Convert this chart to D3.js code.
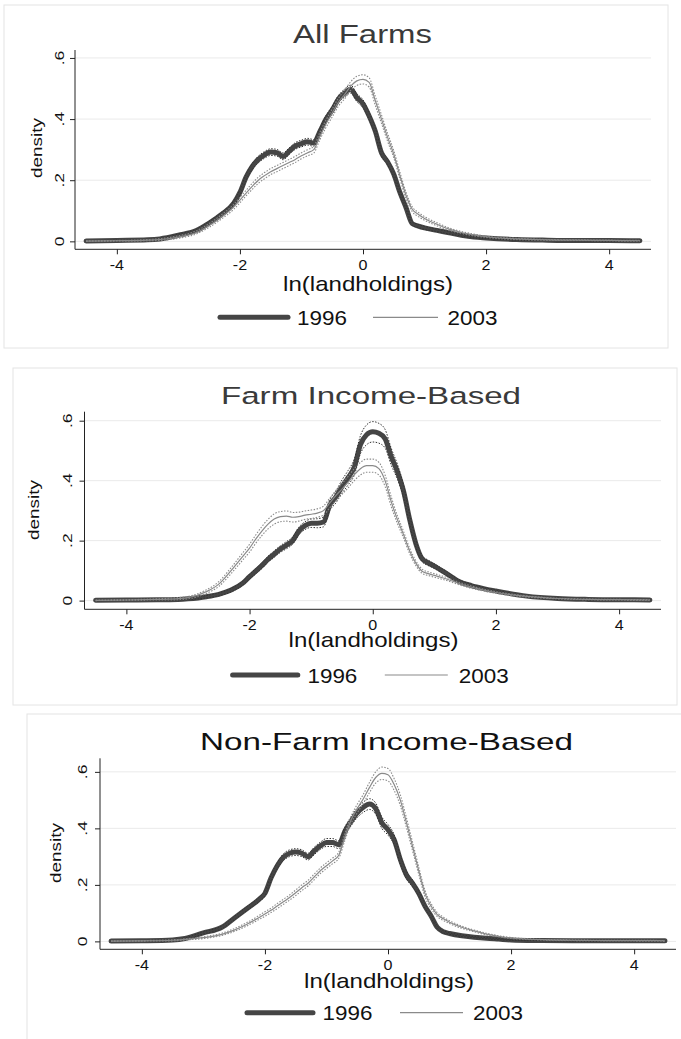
<!DOCTYPE html>
<meta charset="utf-8">
<script src="https://d3js.org/d3.v7.min.js"></script>
<style>
  body { margin: 0; background: #fff; }
  text { font-family: "Liberation Sans", Arial, sans-serif; }
</style>
<div id="my_dataviz"></div>
<script>
// shared grid of ln(landholdings) where the densities were read
var xGrid = [-4.5,-4,-3.5,-3.3,-3,-2.7,-2.5,-2.3,-2.1,-2.0,-1.9,-1.8,-1.7,-1.6,-1.5,-1.4,-1.3,-1.2,-1.1,-1.0,
  -0.9,-0.8,-0.7,-0.6,-0.5,-0.4,-0.3,-0.2,-0.1,0,0.1,0.2,0.3,0.4,0.5,0.6,0.7,0.8,0.9,1.0,
  1.2,1.4,1.6,1.8,2.0,2.5,3.0,3.5,4.0,4.5];

var titles = ["All Farms", "Farm Income-Based", "Non-Farm Income-Based"];
var years = ["1996", "2003"];
var xTicks = [-4, -2, 0, 2, 4];
var yTicks = [0, 0.2, 0.4, 0.6];
var yTickLabels = ["0", ".2", ".4", ".6"];
var xTitle = "ln(landholdings)";
var yTitle = "density";

// All Farms
var allFarms1996 = [.001,.003,.005,.008,.020,.036,.060,.088,.125,.160,.210,.245,.268,.283,.292,.290,.278,.295,.312,.320,
  .326,.322,.360,.400,.430,.465,.485,.498,.470,.450,.410,.360,.290,.260,.220,.160,.110,.058,.050,.044,
  .036,.028,.020,.014,.011,.006,.004,.003,.003,.002];
var allFarms1996CI = [.001,.001,.002,.003,.004,.005,.006,.007,.008,.009,.010,.010,.011,.011,.011,.011,.011,.011,.011,.011,
  .011,.011,.011,.012,.012,.012,.013,.013,.013,.013,.012,.012,.011,.010,.010,.009,.008,.006,.005,.005,
  .004,.004,.003,.003,.002,.002,.001,.001,.001,.001];
var allFarms2003 = [.001,.002,.004,.006,.014,.030,.052,.080,.113,.135,.158,.180,.200,.215,.228,.238,.248,.258,.268,.280,
  .290,.300,.345,.385,.420,.455,.480,.508,.525,.530,.520,.460,.400,.340,.285,.215,.150,.105,.088,.075,
  .056,.040,.029,.021,.015,.008,.005,.004,.003,.002];
var allFarms2003CI = [.001,.001,.002,.003,.004,.005,.006,.007,.008,.009,.009,.010,.010,.010,.010,.010,.010,.010,.010,.010,
  .010,.011,.012,.012,.013,.013,.014,.014,.015,.015,.015,.015,.014,.013,.012,.011,.010,.008,.007,.006,
  .005,.004,.003,.003,.002,.002,.001,.001,.001,.001];

// Farm Income-Based
var farmInc1996 = [.001,.002,.003,.003,.006,.013,.021,.035,.060,.080,.098,.117,.138,.155,.172,.185,.200,.232,.250,.258,
  .258,.262,.318,.345,.380,.410,.445,.520,.553,.563,.558,.540,.480,.430,.365,.270,.190,.140,.126,.115,
  .090,.064,.050,.040,.032,.015,.007,.004,.003,.002];
var farmInc1996CI = [.001,.001,.002,.002,.003,.004,.005,.006,.007,.008,.009,.010,.010,.011,.011,.012,.012,.013,.013,.014,
  .015,.016,.018,.020,.022,.024,.027,.030,.033,.034,.033,.031,.028,.025,.021,.017,.013,.010,.009,.008,
  .007,.006,.005,.004,.003,.002,.002,.001,.001,.001];
var farmInc2003 = [.001,.002,.004,.005,.010,.030,.055,.100,.150,.175,.205,.232,.255,.272,.280,.282,.278,.280,.285,.288,
  .292,.300,.325,.350,.372,.395,.420,.440,.450,.450,.440,.400,.330,.270,.220,.165,.125,.098,.090,.084,
  .072,.057,.045,.035,.027,.014,.007,.004,.003,.002];
var farmInc2003CI = [.001,.001,.002,.003,.004,.006,.008,.010,.012,.013,.014,.015,.016,.017,.017,.017,.016,.015,.014,.014,
  .014,.015,.016,.017,.018,.019,.020,.021,.022,.022,.021,.019,.016,.013,.011,.009,.008,.007,.006,.006,
  .005,.004,.004,.003,.003,.002,.001,.001,.001,.001];

// Non-Farm Income-Based
var nonFarm1996 = [.001,.002,.005,.010,.030,.050,.082,.115,.148,.170,.225,.268,.298,.312,.316,.312,.300,.320,.338,.350,
  .350,.342,.390,.425,.455,.475,.486,.470,.420,.395,.360,.290,.235,.205,.170,.125,.090,.050,.034,.028,
  .020,.015,.011,.008,.005,.003,.002,.002,.002,.002];
var nonFarm1996CI = [.001,.001,.002,.003,.004,.005,.006,.007,.008,.009,.010,.011,.012,.012,.012,.012,.012,.013,.013,.014,
  .014,.014,.015,.016,.017,.018,.019,.020,.020,.019,.018,.016,.014,.012,.010,.008,.007,.005,.004,.003,
  .003,.002,.002,.002,.001,.001,.001,.001,.001,.001];
var nonFarm2003 = [.001,.002,.004,.007,.013,.025,.040,.060,.084,.097,.110,.125,.140,.155,.172,.190,.206,.228,.250,.268,
  .285,.305,.370,.430,.470,.505,.545,.580,.595,.590,.555,.500,.420,.335,.250,.170,.125,.095,.080,.068,
  .050,.037,.026,.018,.012,.006,.004,.003,.003,.002];
var nonFarm2003CI = [.001,.001,.002,.002,.003,.004,.005,.006,.007,.008,.008,.009,.009,.009,.010,.010,.010,.010,.010,.010,
  .010,.011,.012,.013,.015,.016,.018,.020,.022,.022,.021,.019,.017,.015,.013,.011,.009,.007,.006,.005,
  .004,.003,.003,.002,.002,.001,.001,.001,.001,.001];

var series = [
  [[allFarms1996, allFarms1996CI], [allFarms2003, allFarms2003CI]],
  [[farmInc1996, farmInc1996CI], [farmInc2003, farmInc2003CI]],
  [[nonFarm1996, nonFarm1996CI], [nonFarm2003, nonFarm2003CI]]
];

// where each of the three stacked graphs sits on the page
var layout = [
  {frame: [4, 5, 664, 343], left: 75, right: 651, top: 50, bottom: 249.3, yDom: [-0.026, 0.626],
   titleX: 362.5, titleY: 43, titleSize: 25.5, titleLen: 139, titleColor: "#3a3a3a",
   yLabX: 63.5, densX: 42, densY: 148, xTitleX: 368, xTitleY: 291, legY: 317.3,
   leg: [220, 288, 297, 373, 438, 447.5]},
  {frame: [13, 368, 664, 337], left: 84.5, right: 661, top: 411.7, bottom: 609.3, yDom: [-0.029, 0.630],
   titleX: 371, titleY: 404.3, titleSize: 24.7, titleLen: 300, titleColor: "#3a3a3a",
   yLabX: 71.5, densX: 39, densY: 510, xTitleX: 373.5, xTitleY: 646.7, legY: 675,
   leg: [232.6, 297.8, 307.4, 384.8, 447.8, 458.7]},
  {frame: [27, 714, 680, 340], left: 100, right: 676, top: 758.3, bottom: 949.3, yDom: [-0.028, 0.648],
   titleX: 386.5, titleY: 750, titleSize: 23.5, titleLen: 373, titleColor: "#111",
   yLabX: 87, densX: 61, densY: 853, xTitleX: 389, xTitleY: 987.7, legY: 1012.7,
   leg: [247, 313, 322.6, 400, 463, 473]}
];

var W = 681, H = 1039;
var svg = d3.select("#my_dataviz")
  .append("svg")
    .attr("width", W)
    .attr("height", H);

svg.append("rect").attr("width", W).attr("height", H).attr("fill", "#fff");

var dark = "#454545", grey = "#8a8a8a";

// text stretched along its reading direction (the originals use a wide face);
// either a fixed stretch or a target width
function label(g, x, y, str, size, anchor, rot, opt) {
  var t = g.append("text")
    .attr("text-anchor", anchor)
    .attr("font-size", size)
    .attr("fill", opt.color || "#111")
    .text(str);
  var sx = opt.sx || 1;
  if (opt.width) sx = opt.width / t.node().getComputedTextLength();
  t.attr("transform", "translate(" + x + "," + y + ") rotate(" + (rot || 0) + ") scale(" + sx + ",1)");
  return t;
}

layout.forEach(function(L, p) {
  var g = svg.append("g");

  g.append("rect")
    .attr("x", L.frame[0]).attr("y", L.frame[1])
    .attr("width", L.frame[2]).attr("height", L.frame[3])
    .attr("fill", "none").attr("stroke", "#e4e4e4");

  var x = d3.scaleLinear().domain([-4.68, 4.68]).range([L.left, L.right]);
  var y = d3.scaleLinear().domain(L.yDom).range([L.bottom, L.top]);

  // gridlines
  g.selectAll(".grid")
    .data(yTicks)
    .enter()
    .append("line")
      .attr("x1", L.left).attr("x2", L.right)
      .attr("y1", function(d) { return y(d); })
      .attr("y2", function(d) { return y(d); })
      .attr("stroke", "#eaeaea");

  // axes
  var ax = g.append("g")
    .attr("transform", "translate(0," + L.bottom + ")")
    .call(d3.axisBottom(x).tickValues(xTicks).tickSize(5).tickFormat(""));
  var ay = g.append("g")
    .attr("transform", "translate(" + L.left + ",0)")
    .call(d3.axisLeft(y).tickValues(yTicks).tickSize(5).tickFormat(""));
  [ax, ay].forEach(function(a) {
    a.select(".domain").attr("d", null);
    a.selectAll("line").attr("stroke", "#222");
  });
  g.append("line").attr("x1", L.left).attr("x2", L.right)
    .attr("y1", L.bottom).attr("y2", L.bottom).attr("stroke", "#222");
  g.append("line").attr("x1", L.left).attr("x2", L.left)
    .attr("y1", L.top).attr("y2", L.bottom).attr("stroke", "#222");

  xTicks.forEach(function(t) {
    label(g, x(t), L.bottom + 20.5, t < 0 ? "-" + (-t) : String(t), 14, "middle", 0, {sx: 1.15});
  });
  yTicks.forEach(function(t, i) {
    label(g, L.yLabX, y(t), yTickLabels[i], 13, "middle", -90, {sx: 1.35});
  });

  label(g, L.densX, L.densY, yTitle, 15, "middle", -90, {width: 60});
  label(g, L.xTitleX, L.xTitleY, xTitle, 21, "middle", 0, {width: 170});
  label(g, L.titleX, L.titleY, titles[p], L.titleSize, "middle", 0, {width: L.titleLen, color: L.titleColor});

  // curves
  var line = d3.line()
    .x(function(d) { return x(d[0]); })
    .y(function(d) { return y(d[1]); })
    .curve(d3.curveMonotoneX);

  function pts(est, ci, k) {
    return xGrid.map(function(v, i) { return [v, Math.max(0, est[i] + k * ci[i])]; });
  }

  var s96 = series[p][0], s03 = series[p][1];

  g.append("path").attr("d", line(pts(s96[0], s96[1], 0)))
    .attr("fill", "none").attr("stroke", dark).attr("stroke-width", 5)
    .attr("stroke-linecap", "round").attr("stroke-linejoin", "round");
  [-1, 1].forEach(function(k) {
    g.append("path").attr("d", line(pts(s96[0], s96[1], k)))
      .attr("fill", "none").attr("stroke", "#333").attr("stroke-width", 1)
      .attr("stroke-dasharray", "1.5,1.5");
  });

  g.append("path").attr("d", line(pts(s03[0], s03[1], 0)))
    .attr("fill", "none").attr("stroke", grey).attr("stroke-width", 1.2);
  [-1, 1].forEach(function(k) {
    g.append("path").attr("d", line(pts(s03[0], s03[1], k)))
      .attr("fill", "none").attr("stroke", grey).attr("stroke-width", 1.1)
      .attr("stroke-dasharray", "1.5,1.5");
  });

  // legend
  g.append("line").attr("x1", L.leg[0]).attr("x2", L.leg[1])
    .attr("y1", L.legY).attr("y2", L.legY)
    .attr("stroke", dark).attr("stroke-width", 5).attr("stroke-linecap", "round");
  g.append("line").attr("x1", L.leg[3]).attr("x2", L.leg[4])
    .attr("y1", L.legY).attr("y2", L.legY)
    .attr("stroke", grey).attr("stroke-width", 1.2);
  [L.leg[2], L.leg[5]].forEach(function(lx, i) {
    label(g, lx, L.legY + 7.5, years[i], 21, "start", 0, {width: 50});
  });
});
</script>
